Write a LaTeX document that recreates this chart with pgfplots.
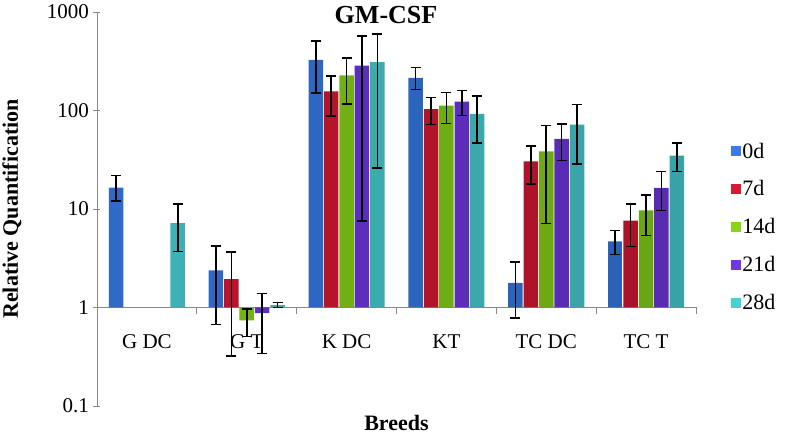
\documentclass[border=0pt]{standalone}
\usepackage{fontspec}
\setmainfont{Liberation Serif}
\usepackage{pgfplots}
\pgfplotsset{compat=1.18}
\definecolor{c0}{RGB}{55,125,235}
\definecolor{c1}{RGB}{218,24,52}
\definecolor{c2}{RGB}{135,212,24}
\definecolor{c3}{RGB}{112,55,228}
\definecolor{c4}{RGB}{72,208,214}
\definecolor{axgray}{RGB}{137,137,137}
\tikzset{barsh/.style={left color=#1!85!black, middle color=#1, right color=#1!78!black, draw=none}}
\begin{document}
\begin{tikzpicture}
\begin{axis}[
  at={(0,0)}, anchor=south west,
  scale only axis, width=599pt, height=394pt,
  ymode=log, ymin=0.1, ymax=1000,
  xmin=-0.5, xmax=5.5,
  ybar, bar width=14.5pt,
  axis y line*=left, axis x line*=bottom,
  x axis line style={draw=none},
  y axis line style={axgray, line width=0.8pt},
  ytick={0.1,1,10,100,1000}, yticklabels={0.1,1,10,100,1000},
  yminorticks=false,
  major tick length=7pt,
  ytick style={axgray, line width=0.8pt, xshift=-3.5pt},
  xtick={0,1,2,3,4,5},
  xticklabels={G DC,G T,K DC,KT,TC DC,TC T},
  xtick style={draw=none},
  xticklabel style={anchor=base, inner sep=0pt, yshift=64pt, font=\fontsize{21}{21}\selectfont},
  yticklabel style={font=\fontsize{21}{21}\selectfont, inner sep=0pt, xshift=-8pt},
  /pgf/number format/assume math mode=true,
  ylabel={\bfseries Relative Quantification},
  ylabel style={at={(axis description cs:-0.142,0.5)}, anchor=center, font=\fontsize{22}{22}\selectfont},
  xlabel={\bfseries Breeds},
  xlabel style={at={(axis description cs:0.5,-0.043)}, anchor=center, font=\fontsize{22}{22}\selectfont},
  title={\bfseries GM-CSF},
  title style={at={(axis description cs:0.4825,0.977)}, anchor=center, font=\fontsize{26}{26}\selectfont},
  legend style={draw=none, fill=none, at={(axis description cs:1.058,0.455)}, anchor=west,
    font=\fontsize{22}{22}\selectfont, row sep=17pt, inner sep=0pt,
    legend cell align=left},
  legend image code/.code={\fill[#1] (0pt,-4.5pt) rectangle (9pt,4.5pt);},
  error bars/y dir=both, error bars/y explicit,
  error bars/error mark=-,
  error bars/error bar style={draw=black, line width=1.6pt},
  error bars/error mark options={rotate=90, draw=black, line width=1.6pt, mark size=5pt},
  clip=false,
  log origin y=0,
]
\draw[axgray, line width=0.8pt] (axis cs:-0.5,1) -- (axis cs:5.5,1)
  (axis cs:0.5,1) -- (axis cs:0.5,0.85)
  (axis cs:1.5,1) -- (axis cs:1.5,0.85)
  (axis cs:2.5,1) -- (axis cs:2.5,0.85)
  (axis cs:3.5,1) -- (axis cs:3.5,0.85)
  (axis cs:4.5,1) -- (axis cs:4.5,0.85)
  (axis cs:5.5,1) -- (axis cs:5.5,0.85);

\addplot[barsh=c0, bar shift=-30.8pt, forget plot] coordinates {
 (0,16.5) += (0,5.4) -= (0,4.5)
 (1,2.38) += (0,1.82) -= (0,1.71)
 (2,327) += (0,183) -= (0,177)
 (3,215) += (0,58) -= (0,52)
 (4,1.78) += (0,1.1) -= (0,1.0)
 (5,4.68) += (0,1.37) -= (0,1.23)
};
\addplot[barsh=c1, bar shift=-15.4pt, forget plot] coordinates {
 (1,1.94) += (0,1.73) -= (0,1.62)
 (2,156) += (0,69) -= (0,68)
 (3,103) += (0,33) -= (0,31)
 (4,30.4) += (0,13.3) -= (0,12.4)
 (5,7.64) += (0,3.66) -= (0,3.48)
};
\addplot[barsh=c2, bar shift=0pt, forget plot] coordinates {
 (1,0.74) += (0,0.22) -= (0,0.23)
 (2,227) += (0,116) -= (0,110)
 (3,112) += (0,41) -= (0,38)
 (4,38.4) += (0,32.1) -= (0,31.3)
 (5,9.66) += (0,4.24) -= (0,4.26)
};
\addplot[barsh=c3, bar shift=15.4pt, forget plot] coordinates {
 (1,0.875) += (0,0.515) -= (0,0.535)
 (2,286) += (0,287) -= (0,278.4)
 (3,123) += (0,37) -= (0,34)
 (4,51.6) += (0,21.4) -= (0,20.6)
 (5,16.4) += (0,7.6) -= (0,6.74)
};
\addplot[barsh=c4, bar shift=30.8pt, forget plot] coordinates {
 (0,7.2) += (0,4.0) -= (0,3.5)
 (1,1.06) += (0,0.06) -= (0,0.06)
 (2,309) += (0,291) -= (0,283)
 (3,92.5) += (0,48.5) -= (0,45.5)
 (4,72) += (0,43) -= (0,43.2)
 (5,34.9) += (0,11.7) -= (0,10.9)
};
\addlegendimage{c0}\addlegendentry{0d}
\addlegendimage{c1}\addlegendentry{7d}
\addlegendimage{c2}\addlegendentry{14d}
\addlegendimage{c3}\addlegendentry{21d}
\addlegendimage{c4}\addlegendentry{28d}
\end{axis}
\pgfresetboundingbox
\path (-97pt,-32pt) rectangle (689pt,406pt);
\end{tikzpicture}
\end{document}
